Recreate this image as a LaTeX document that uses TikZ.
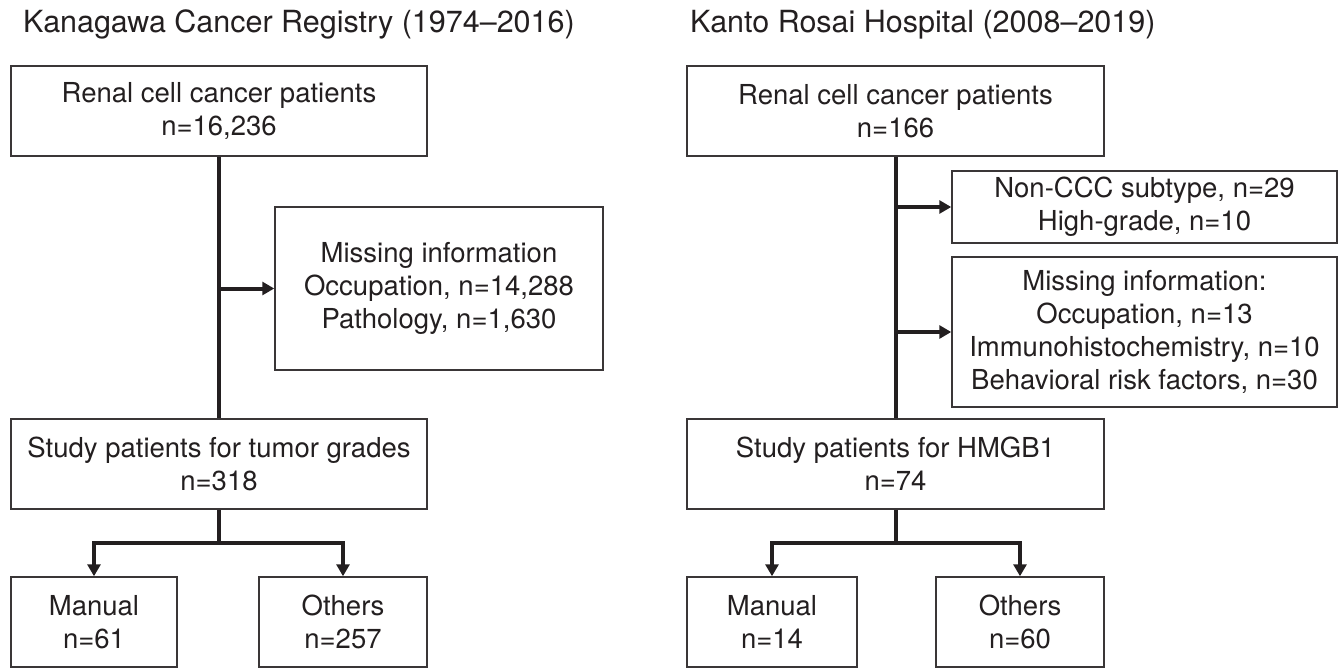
\documentclass[tikz,border=0pt]{standalone}
\usepackage{fontspec}
\setmainfont{TeX Gyre Heros}
\usetikzlibrary{arrows.meta}
\definecolor{ink}{HTML}{231F20}
\definecolor{boxline}{HTML}{3A3637}
\tikzset{
  box/.style={draw=boxline, line width=1.5pt, fill=white, inner sep=0pt, align=center,
    font=\fontsize{27.5}{33}\selectfont, text=ink},
  conn/.style={draw=ink, line width=4pt},
  arr/.style={conn, -{Triangle[length=12pt,width=13pt]}},
  ttl/.style={anchor=base west, inner sep=0pt, font=\fontsize{30.5}{36}\selectfont, text=ink}
}
\begin{document}
\begin{tikzpicture}[x=1pt,y=-1pt]
\useasboundingbox (0,0) rectangle (1340,669);
% ---------- left panel ----------
\node[ttl] (Ltitle) at (23,33) {Kanagawa Cancer Registry (1974–2016)};
\node[box, minimum width=416pt, minimum height=90pt] (L1) at (219,111) {Renal cell cancer patients\\n=16,236};
\node[box, minimum width=328pt, minimum height=163pt] (Lmiss) at (439,288.5) {Missing information\\Occupation, n=14,288\\Pathology, n=1,630};
\node[box, minimum width=416pt, minimum height=90pt] (Lstudy) at (219,464) {Study patients for tumor grades\\n=318};
\node[box, minimum width=166pt, minimum height=90pt] (Lman) at (94,622) {Manual\\n=61};
\node[box, minimum width=168pt, minimum height=90pt] (Loth) at (343,622) {Others\\n=257};
\draw[conn] (L1.south) -- (Lstudy.north);
\draw[arr] (L1.south |- Lmiss.west) -- (Lmiss.west);
\draw[conn] (Lstudy.south) -- ++(0,33) coordinate (Lsplit);
\draw[arr] (Lsplit) -| (Lman.north);
\draw[arr] (Lsplit) -| (Loth.north);
% ---------- right panel ----------
\node[ttl] (Rtitle) at (690,33) {Kanto Rosai Hospital (2008–2019)};
\node[box, minimum width=417pt, minimum height=90pt] (R1) at (895.5,111) {Renal cell cancer patients\\n=166};
\node[box, minimum width=385pt, minimum height=72pt] (Rnon) at (1144.5,207) {Non-CCC subtype, n=29\\High-grade, n=10};
\node[box, minimum width=385pt, minimum height=150pt] (Rmiss) at (1144.5,332) {Missing information:\\Occupation, n=13\\Immunohistochemistry, n=10\\Behavioral risk factors, n=30};
\node[box, minimum width=417pt, minimum height=90pt] (Rstudy) at (895.5,464) {Study patients for HMGB1\\n=74};
\node[box, minimum width=170pt, minimum height=90pt] (Rman) at (772,622) {Manual\\n=14};
\node[box, minimum width=168pt, minimum height=90pt] (Roth) at (1020,622) {Others\\n=60};
\draw[conn] (R1.south) -- (Rstudy.north);
\draw[arr] (R1.south |- Rnon.west) -- (Rnon.west);
\draw[arr] (R1.south |- Rmiss.west) -- (Rmiss.west);
\draw[conn] (Rstudy.south) -- ++(0,33) coordinate (Rsplit);
\draw[arr] (Rsplit) -| (Rman.north);
\draw[arr] (Rsplit) -| (Roth.north);
\end{tikzpicture}
\end{document}
